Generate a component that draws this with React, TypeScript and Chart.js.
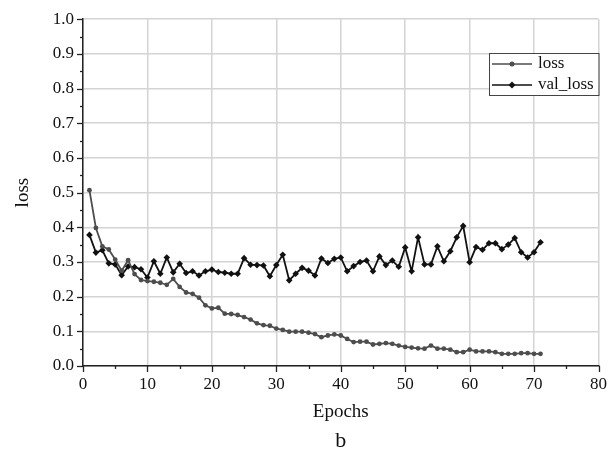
import React, { useEffect, useRef } from "react";
import { Chart, registerables } from "chart.js";

Chart.register(...registerables);

const epochs = [
  1, 2, 3, 4, 5, 6, 7, 8, 9, 10, 11, 12, 13, 14, 15, 16, 17, 18, 19, 20,
  21, 22, 23, 24, 25, 26, 27, 28, 29, 30, 31, 32, 33, 34, 35, 36, 37, 38, 39, 40,
  41, 42, 43, 44, 45, 46, 47, 48, 49, 50, 51, 52, 53, 54, 55, 56, 57, 58, 59, 60,
  61, 62, 63, 64, 65, 66, 67, 68, 69, 70, 71,
];

const lossValues = [
  0.507, 0.398, 0.345, 0.336, 0.307, 0.275, 0.305, 0.265, 0.248, 0.245,
  0.243, 0.24, 0.234, 0.251, 0.228, 0.212, 0.208, 0.197, 0.175, 0.166,
  0.168, 0.151, 0.15, 0.147, 0.141, 0.134, 0.123, 0.118, 0.116, 0.108,
  0.104, 0.099, 0.099, 0.099, 0.096, 0.092, 0.083, 0.088, 0.091, 0.088,
  0.078, 0.069, 0.07, 0.07, 0.062, 0.064, 0.066, 0.064, 0.059, 0.055,
  0.053, 0.051, 0.05, 0.059, 0.05, 0.05, 0.047, 0.04, 0.04, 0.047,
  0.042, 0.042, 0.042, 0.04, 0.035, 0.035, 0.035, 0.037, 0.037, 0.035,
  0.035,
];

const valLossValues = [
  0.378, 0.327, 0.334, 0.296, 0.293, 0.262, 0.287, 0.285, 0.279, 0.255,
  0.302, 0.266, 0.313, 0.27, 0.295, 0.268, 0.273, 0.261, 0.273, 0.278,
  0.271, 0.269, 0.266, 0.266, 0.311, 0.292, 0.291, 0.29, 0.259, 0.291,
  0.321, 0.247, 0.266, 0.283, 0.275, 0.261, 0.31, 0.297, 0.309, 0.313,
  0.273, 0.288, 0.3, 0.304, 0.273, 0.316, 0.291, 0.304, 0.286, 0.342,
  0.273, 0.371, 0.293, 0.293, 0.345, 0.302, 0.331, 0.371, 0.404, 0.299,
  0.343, 0.335, 0.354, 0.354, 0.337, 0.35, 0.369, 0.328, 0.313, 0.328,
  0.357,
];

const seriesNames = ["loss", "val_loss"];
const xTitle = "Epochs";
const yTitle = "loss";
const caption = "b";

const FONT = "'Liberation Serif', 'Times New Roman', serif";
const LOSS_COLOR = "#4d4d4d";
const VAL_COLOR = "#111111";
const GRID_COLOR = "#d4d4d4";

const decorPlugin = {
  id: "decor",
  afterDraw(chart: any) {
    const { ctx, chartArea, scales } = chart;
    const x = scales.x;
    const y = scales.y;
    ctx.save();
    ctx.strokeStyle = "#222";
    ctx.lineWidth = 1.3;
    for (let v = 0; v <= 80; v += 5) {
      const px = Math.round(x.getPixelForValue(v)) + 0.5;
      const len = v % 10 === 0 ? 6 : 3;
      ctx.beginPath();
      ctx.moveTo(px, chartArea.bottom);
      ctx.lineTo(px, chartArea.bottom + len);
      ctx.stroke();
    }
    for (let i = 0; i <= 20; i++) {
      const v = i * 0.05;
      const py = Math.round(y.getPixelForValue(v)) + 0.5;
      const len = i % 2 === 0 ? 6 : 3;
      ctx.beginPath();
      ctx.moveTo(chartArea.left, py);
      ctx.lineTo(chartArea.left - len, py);
      ctx.stroke();
    }

    // legend box
    const bx = 489;
    const by = 53;
    const bw = chartArea.right - bx;
    const bh = 42;
    ctx.fillStyle = "#ffffff";
    ctx.fillRect(bx, by, bw, bh);
    ctx.strokeStyle = "#444";
    ctx.lineWidth = 1;
    ctx.strokeRect(bx + 0.5, by + 0.5, bw, bh);

    const entries = [
      { label: seriesNames[0], color: LOSS_COLOR, yy: 64, style: "circle" },
      { label: seriesNames[1], color: VAL_COLOR, yy: 85, style: "diamond" },
    ];
    ctx.font = `17px ${FONT}`;
    ctx.textBaseline = "middle";
    ctx.textAlign = "left";
    for (const e of entries) {
      ctx.strokeStyle = e.color;
      ctx.lineWidth = 1.6;
      ctx.beginPath();
      ctx.moveTo(bx + 3, e.yy);
      ctx.lineTo(bx + 43, e.yy);
      ctx.stroke();
      ctx.fillStyle = e.color;
      const cx = bx + 23;
      if (e.style === "circle") {
        ctx.beginPath();
        ctx.arc(cx, e.yy, 2.5, 0, Math.PI * 2);
        ctx.fill();
      } else {
        ctx.beginPath();
        ctx.moveTo(cx, e.yy - 3.5);
        ctx.lineTo(cx + 3.5, e.yy);
        ctx.lineTo(cx, e.yy + 3.5);
        ctx.lineTo(cx - 3.5, e.yy);
        ctx.closePath();
        ctx.fill();
      }
      ctx.fillStyle = "#111";
      ctx.fillText(e.label, bx + 49, e.yy);
    }

    ctx.font = `22px ${FONT}`;
    ctx.textAlign = "center";
    ctx.textBaseline = "middle";
    ctx.fillStyle = "#111";
    ctx.fillText(caption, (chartArea.left + chartArea.right) / 2, 441);
    ctx.restore();
  },
};

export default function App() {
  const canvasRef = useRef<HTMLCanvasElement | null>(null);

  useEffect(() => {
    if (!canvasRef.current) return;
    const chart = new Chart(canvasRef.current, {
      type: "line",
      data: {
        labels: epochs,
        datasets: [
          {
            label: seriesNames[0],
            data: epochs.map((e, i) => ({ x: e, y: lossValues[i] })),
            borderColor: LOSS_COLOR,
            backgroundColor: LOSS_COLOR,
            borderWidth: 1.8,
            pointStyle: "circle",
            pointRadius: 2.4,
            pointBorderWidth: 0,
            tension: 0,
          },
          {
            label: seriesNames[1],
            data: epochs.map((e, i) => ({ x: e, y: valLossValues[i] })),
            borderColor: VAL_COLOR,
            backgroundColor: VAL_COLOR,
            borderWidth: 1.8,
            pointStyle: "rectRot",
            pointRadius: 3.3,
            pointBorderWidth: 0,
            tension: 0,
          },
        ],
      },
      options: {
        animation: false,
        responsive: true,
        maintainAspectRatio: false,
        layout: { padding: { top: 16, right: 16, left: 0, bottom: 0 } },
        plugins: {
          legend: { display: false },
          tooltip: { enabled: false },
        },
        scales: {
          x: {
            type: "linear",
            min: 0,
            max: 80,
            afterFit: (s: any) => {
              s.height = 90;
            },
            ticks: {
              stepSize: 10,
              padding: 8,
              color: "#111",
              font: { family: FONT, size: 17 },
            },
            grid: { color: GRID_COLOR, lineWidth: 1.5, drawTicks: false },
            border: { display: true, color: "#222", width: 1.5 },
            title: {
              display: true,
              text: xTitle,
              color: "#111",
              font: { family: FONT, size: 19 },
              padding: { top: 0, bottom: 33 },
            },
          },
          y: {
            min: 0,
            max: 1,
            afterFit: (s: any) => {
              s.width = 83;
            },
            ticks: {
              stepSize: 0.1,
              padding: 9,
              color: "#111",
              font: { family: FONT, size: 17 },
              callback: (v: any) => Number(v).toFixed(1),
            },
            grid: { color: GRID_COLOR, lineWidth: 1.5, drawTicks: false },
            border: { display: true, color: "#222", width: 1.5 },
            title: {
              display: true,
              text: yTitle,
              color: "#111",
              font: { family: FONT, size: 19 },
              padding: { top: 12, bottom: 0 },
            },
          },
        },
      },
      plugins: [decorPlugin],
    });
    return () => chart.destroy();
  }, []);

  return (
    <div style={{ position: "absolute", left: 0, top: 0, width: 615, height: 456, background: "#fff" }}>
      <canvas ref={canvasRef} />
    </div>
  );
}
